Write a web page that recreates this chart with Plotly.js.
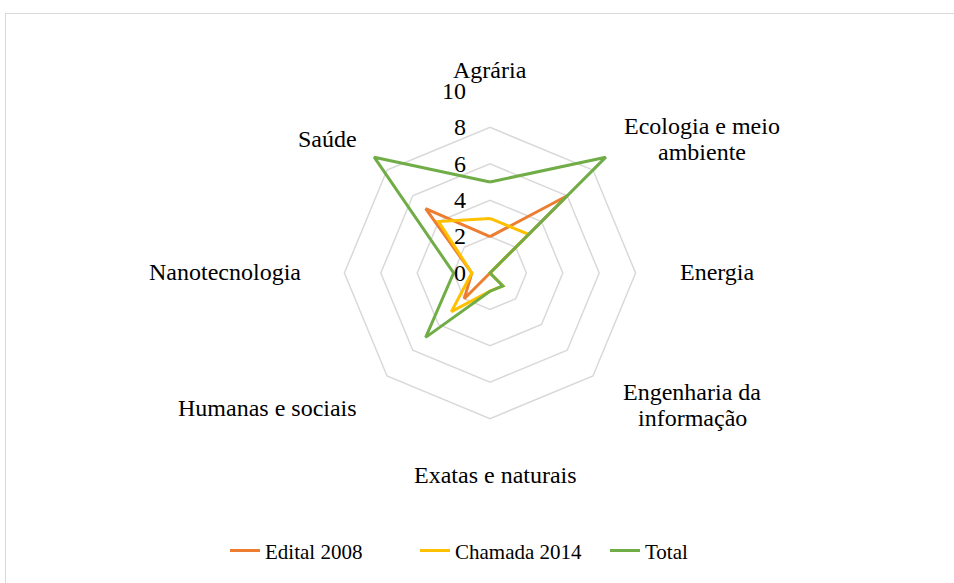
<!DOCTYPE html>
<html>
<head>
<meta charset="utf-8">
<script src="https://cdn.plot.ly/plotly-3.0.1.min.js"></script>
<style>
  html, body { margin: 0; padding: 0; background: #fff; overflow: hidden; }
  #chart { position: absolute; left: 0; top: 0; width: 954px; height: 583px; }
  #frame { position: absolute; left: 5px; top: 13px; width: 1000px; height: 1000px;
           border: 1px solid #d9d9d9; pointer-events: none; }
</style>
</head>
<body>
<div id="chart"></div>
<div id="frame"></div>
<script>
const categories = ["Agrária", "Ecologia e meio<br>ambiente", "Energia", "Engenharia da<br>informação",
                    "Exatas e naturais", "Humanas e sociais", "Nanotecnologia", "Saúde"];
const edital2008 = [2, 6, 0, 0, 0, 2, 1, 5];
const chamada2014 = [3, 3, 0, 1, 1, 3, 1, 4];
const total = [5, 9, 0, 1, 1, 5, 2, 9];
const radialTicks = [0, 2, 4, 6, 8, 10];

// label centres (pixels) for the category names, placed outside the polygon
const labelPos = [[490, 70], [702, 139], [717, 272], [692, 405], [495, 475], [267, 408], [225, 272], [327, 139]];

function closed(arr) { return arr.concat([arr[0]]); }

const W = 954, H = 583;
const font = "'Liberation Serif', 'Times New Roman', serif";
const traces = [
  { name: "Edital 2008", values: edital2008, color: "#ED7D31" },
  { name: "Chamada 2014", values: chamada2014, color: "#FFC000" },
  { name: "Total", values: total, color: "#70AD47" }
].map(s => ({
  type: "scatterpolar",
  mode: "lines",
  name: s.name,
  r: closed(s.values),
  theta: closed(categories),
  line: { color: s.color, width: 3 },
  hoverinfo: "skip"
}));

const annotations = [];
categories.forEach((c, i) => {
  const lines = c.split("<br>");
  lines.forEach((t, j) => {
    const y = labelPos[i][1] + (j - (lines.length - 1) / 2) * 26.5;
    annotations.push({
      text: t, showarrow: false, xref: "paper", yref: "paper",
      x: labelPos[i][0] / W, y: 1 - y / H, xanchor: "center", yanchor: "middle",
      font: { family: font, size: 24, color: "#000" }
    });
  });
});

// transparent padding keeps the radial labels off the axis, as in the original
const pad = "<span style='fill:rgba(0,0,0,0);font-size:20px'>00</span>";

const layout = {
  width: W, height: H,
  margin: { l: 0, r: 0, t: 0, b: 0 },
  paper_bgcolor: "#fff",
  font: { family: font, size: 24, color: "#000" },
  showlegend: true,
  legend: {
    orientation: "h", x: 225 / W, xanchor: "left", y: 0.055, yanchor: "middle",
    font: { family: font, size: 21, color: "#000" },
    entrywidth: 145, entrywidthmode: "pixels", tracegroupgap: 0
  },
  annotations: annotations,
  polar: {
    domain: { x: [308 / W, 672 / W], y: [128 / H, 492 / H] },
    bgcolor: "rgba(0,0,0,0)",
    gridshape: "linear",
    angularaxis: {
      rotation: 90, direction: "clockwise",
      showgrid: false, showline: false, ticks: "", showticklabels: false
    },
    radialaxis: {
      range: [0, 10], angle: 90, tickangle: 90,
      tickvals: radialTicks, ticktext: radialTicks.map(v => String(v) + pad),
      showline: false, ticks: "",
      gridcolor: "#d9d9d9", gridwidth: 1.5,
      side: "counterclockwise",
      tickfont: { family: font, size: 24, color: "#000" }
    }
  }
};

Plotly.newPlot("chart", traces, layout, { staticPlot: true });
</script>
</body>
</html>
